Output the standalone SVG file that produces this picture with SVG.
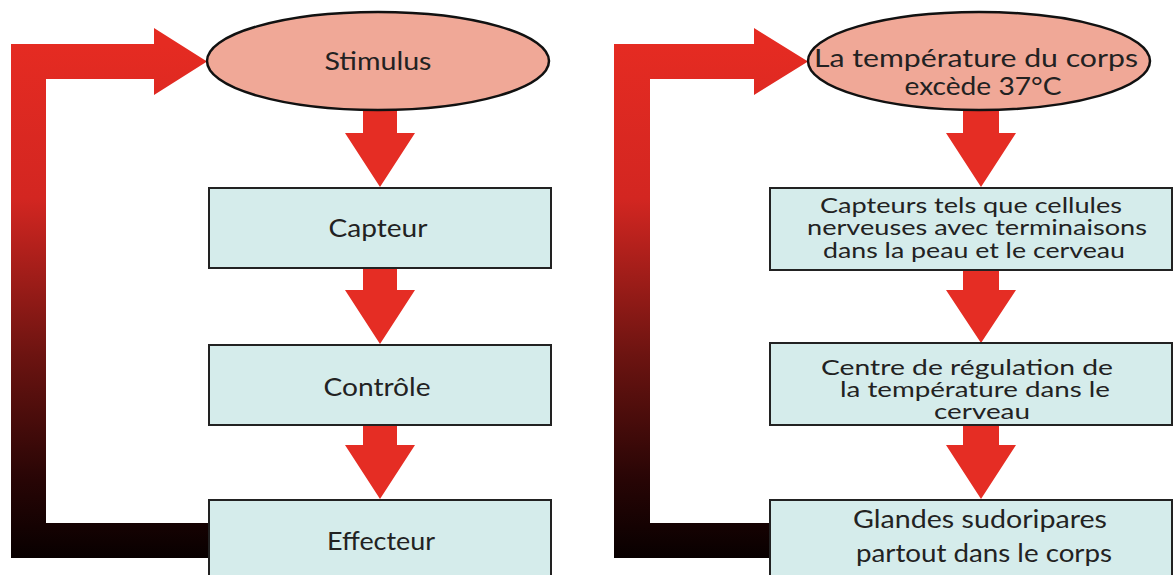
<svg xmlns="http://www.w3.org/2000/svg" width="1175" height="575" viewBox="0 0 1175 575">
<defs>
<linearGradient id="fb" gradientUnits="userSpaceOnUse" x1="0" y1="44" x2="0" y2="558">
<stop offset="0" stop-color="#e52b22"/>
<stop offset="0.3" stop-color="#d32621"/>
<stop offset="0.6" stop-color="#6e1411"/>
<stop offset="0.85" stop-color="#270505"/>
<stop offset="1" stop-color="#080000"/>
</linearGradient>
<style>
.ell{fill:#f0a897;stroke:#111;stroke-width:2.5}
.box{fill:#d5eceb;stroke:#222;stroke-width:2}
.arr{fill:#e52d24}
.fb{fill:url(#fb)}
text{font-family:Lato,"Noto Sans","Liberation Sans",sans-serif;fill:#222;text-anchor:middle}
.t{font-size:25px}
.s{font-size:22px}
</style>
</defs>
<rect width="1175" height="575" fill="#ffffff"/>
<g id="connectors">
<path class="fb" d="M209,558 L11,558 L11,44 L154,44 L154,28 L207,61.5 L154,95 L154,79 L46,79 L46,523 L209,523 Z"/>
<path class="arr" d="M363,108 L397,108 L397,133 L415,133 L380,187 L345,133 L363,133 Z"/>
<path class="arr" d="M363,268 L397,268 L397,290 L415,290 L380,344 L345,290 L363,290 Z"/>
<path class="arr" d="M363,425 L397,425 L397,445 L415,445 L380,499 L345,445 L363,445 Z"/>
<path class="fb" d="M772,558 L614,558 L614,44 L754,44 L754,28 L808,61.5 L754,95 L754,79 L650,79 L650,523 L772,523 Z"/>
<path class="arr" d="M963,108 L999,108 L999,133 L1016,133 L981,187 L946,133 L963,133 Z"/>
<path class="arr" d="M963,270 L999,270 L999,290 L1016,290 L981,343 L946,290 L963,290 Z"/>
<path class="arr" d="M963,425 L999,425 L999,445 L1016,445 L981,499 L946,445 L963,445 Z"/>
</g>
<g id="stimulus">
<ellipse class="ell" cx="378" cy="61" rx="171" ry="49"/>
<text class="t" x="378" y="70" textLength="107" lengthAdjust="spacingAndGlyphs">Stimulus</text>
</g>
<g id="capteur">
<rect class="box" x="209" y="188" width="342" height="80"/>
<text class="t" x="378" y="237" textLength="99" lengthAdjust="spacingAndGlyphs">Capteur</text>
</g>
<g id="controle">
<rect class="box" x="209" y="345" width="342" height="80"/>
<text class="t" x="377" y="396" textLength="107" lengthAdjust="spacingAndGlyphs">Contrôle</text>
</g>
<g id="effecteur">
<rect class="box" x="209" y="500" width="342" height="90"/>
<text class="t" x="381" y="550" textLength="108" lengthAdjust="spacingAndGlyphs">Effecteur</text>
</g>
<g id="temperature">
<ellipse class="ell" cx="979" cy="61" rx="171" ry="49"/>
<text class="t" x="976" y="67" textLength="324" lengthAdjust="spacingAndGlyphs">La température du corps</text>
<text class="t" x="983" y="95" textLength="157" lengthAdjust="spacingAndGlyphs">excède 37°C</text>
</g>
<g id="capteurs">
<rect class="box" x="770" y="188" width="402" height="82"/>
<text class="s" x="971" y="213" textLength="302" lengthAdjust="spacingAndGlyphs">Capteurs tels que cellules</text>
<text class="s" x="977" y="235" textLength="340" lengthAdjust="spacingAndGlyphs">nerveuses avec terminaisons</text>
<text class="s" x="974" y="258" textLength="302" lengthAdjust="spacingAndGlyphs">dans la peau et le cerveau</text>
</g>
<g id="centre">
<rect class="box" x="770" y="343" width="402" height="82"/>
<text class="s" x="967" y="375" textLength="292" lengthAdjust="spacingAndGlyphs">Centre de régulation de</text>
<text class="s" x="975" y="397" textLength="270" lengthAdjust="spacingAndGlyphs">la température dans le</text>
<text class="s" x="982" y="419" textLength="96" lengthAdjust="spacingAndGlyphs">cerveau</text>
</g>
<g id="glandes">
<rect class="box" x="770" y="500" width="402" height="90"/>
<text class="t" x="980" y="528" textLength="254" lengthAdjust="spacingAndGlyphs">Glandes sudoripares</text>
<text class="t" x="984" y="562" textLength="256" lengthAdjust="spacingAndGlyphs">partout dans le corps</text>
</g>
</svg>
